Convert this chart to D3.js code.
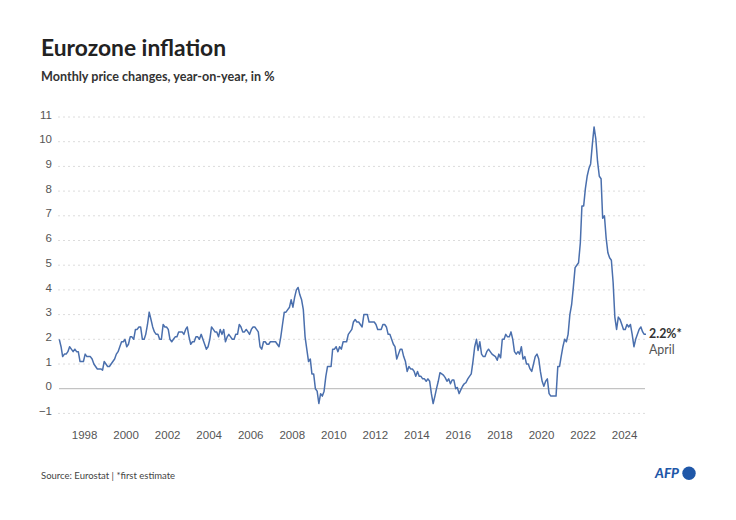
<!DOCTYPE html>
<html lang="en">
<head>
<meta charset="utf-8">
<title>Eurozone inflation</title>
<script src="https://cdn.jsdelivr.net/npm/d3@7"></script>
<style>
  html, body { margin: 0; background: #fff; }
  svg { display: block; font-family: Lato, "Noto Sans", sans-serif; }
  .axis path { display: none; }
  .axis text { fill: #555; font-size: 11.5px; }
  .grid line { stroke: #dcdcdc; stroke-dasharray: 2 3; }
</style>
</head>
<body>
<svg id="chart" width="736" height="520"></svg>
<script>
// monthly values per year
var y1997 = [2.0,1.7,1.3,1.4,1.4,1.5,1.7,1.6,1.5,1.6,1.5,1.5];
var y1998 = [1.1,1.1,1.1,1.4,1.3,1.3,1.3,1.2,1.0,0.9,0.8,0.8];
var y1999 = [0.8,0.75,1.1,1.0,0.9,0.9,1.0,1.1,1.2,1.4,1.5,1.7];
var y2000 = [1.9,1.9,2.0,1.7,1.8,2.1,2.1,2.0,2.4,2.4,2.5,2.5];
var y2001 = [2.0,2.0,2.2,2.6,3.1,2.8,2.5,2.3,2.2,2.2,2.0,2.0];
var y2002 = [2.6,2.5,2.5,2.4,2.0,1.9,2.0,2.1,2.1,2.3,2.3,2.3];
var y2003 = [2.2,2.4,2.5,2.1,1.8,1.9,1.9,2.1,2.1,2.0,2.2,2.0];
var y2004 = [1.8,1.6,1.7,2.0,2.5,2.4,2.3,2.3,2.1,2.4,2.2,2.4];
var y2005 = [1.9,2.1,2.2,2.1,2.0,2.0,2.2,2.2,2.6,2.5,2.3,2.3];
var y2006 = [2.4,2.3,2.2,2.4,2.5,2.5,2.4,2.3,1.7,1.6,1.9,1.9];
var y2007 = [1.8,1.8,1.9,1.9,1.9,1.9,1.8,1.7,2.1,2.6,3.1,3.1];
var y2008 = [3.2,3.3,3.6,3.3,3.7,4.0,4.1,3.8,3.6,3.2,2.1,1.6];
var y2009 = [1.1,1.2,0.6,0.6,0.0,-0.1,-0.6,-0.2,-0.3,-0.1,0.5,0.9];
var y2010 = [0.9,0.9,1.6,1.6,1.7,1.5,1.7,1.6,1.9,1.9,1.9,2.2];
var y2011 = [2.3,2.4,2.7,2.8,2.7,2.7,2.6,2.5,3.0,3.0,3.0,2.7];
var y2012 = [2.7,2.7,2.7,2.6,2.4,2.4,2.4,2.6,2.6,2.5,2.2,2.2];
var y2013 = [2.0,1.8,1.7,1.2,1.4,1.6,1.6,1.3,1.1,0.7,0.9,0.8];
var y2014 = [0.8,0.7,0.5,0.7,0.5,0.5,0.4,0.4,0.3,0.4,0.3,-0.2];
var y2015 = [-0.6,-0.3,0.0,0.3,0.65,0.6,0.55,0.45,0.3,0.4,0.2,0.35];
var y2016 = [0.35,0.0,0.05,-0.2,-0.05,0.1,0.2,0.25,0.4,0.5,0.6,1.1];
var y2017 = [1.7,2.0,1.55,1.9,1.4,1.3,1.3,1.5,1.6,1.5,1.4,1.35];
var y2018 = [1.3,1.15,1.4,1.25,2.0,2.0,2.2,2.1,2.1,2.3,2.0,1.5];
var y2019 = [1.4,1.5,1.4,1.7,1.2,1.3,1.0,1.0,0.8,0.7,1.0,1.3];
var y2020 = [1.4,1.2,0.7,0.3,0.1,0.3,0.4,-0.2,-0.3,-0.3,-0.3,-0.3];
var y2021 = [0.9,0.9,1.3,1.7,2.0,1.9,2.2,3.0,3.4,4.1,4.9,5.0];
var y2022 = [5.1,5.9,7.4,7.4,8.1,8.6,8.9,9.1,9.9,10.6,10.1,9.2];
var y2023 = [8.6,8.5,6.9,7.0,6.1,5.5,5.3,5.2,4.3,2.9,2.4,2.9];
var y2024 = [2.8,2.6,2.4,2.4,2.6,2.5,2.6,2.2,1.7,2.0,2.2,2.4];
var y2025 = [2.5,2.3,2.2,2.2];

var yearValues = [y1997,y1998,y1999,y2000,y2001,y2002,y2003,y2004,y2005,y2006,y2007,y2008,y2009,
  y2010,y2011,y2012,y2013,y2014,y2015,y2016,y2017,y2018,y2019,y2020,y2021,y2022,y2023,y2024,y2025];
var yTicks = [-1,0,1,2,3,4,5,6,7,8,9,10,11];
var xYears = [1998,2000,2002,2004,2006,2008,2010,2012,2014,2016,2018,2020,2022,2024];

var data = [];
yearValues.forEach(function(vals, i){
  vals.forEach(function(v, m){
    data.push({date: new Date(1997 + i, m, 1), value: v});
  });
});

var svg = d3.select("#chart");

var x = d3.scaleTime()
  .domain([new Date(1997,0,1), new Date(2025,3,1)])
  .range([59.3, 646]);
var y = d3.scaleLinear()
  .domain([-1, 11])
  .range([413.4, 117]);

svg.append("text").attr("x",41).attr("y",55.5)
  .attr("font-size",22.8).attr("font-weight",700).attr("fill","#222")
  .text("Eurozone inflation");
svg.append("text").attr("x",41).attr("y",81)
  .attr("font-size",12.6).attr("font-weight",700).attr("fill","#333")
  .text("Monthly price changes, year-on-year, in %");

// y axis labels sit just above their grid lines
var yAxis = d3.axisLeft(y)
  .tickValues(yTicks)
  .tickSize(0)
  .tickPadding(6)
  .tickFormat(function(d){ return d < 0 ? "\u2212" + Math.abs(d) : d; });
svg.append("g").attr("class","axis").attr("transform","translate(58,-2.5)").call(yAxis);

svg.append("g").attr("class","grid")
  .selectAll("line").data(yTicks.filter(function(d){ return d !== 0; })).enter().append("line")
  .attr("x1",58).attr("x2",646)
  .attr("y1",function(d){ return y(d); })
  .attr("y2",function(d){ return y(d); });

svg.append("line")
  .attr("x1",59).attr("x2",645)
  .attr("y1",y(0)).attr("y2",y(0))
  .attr("stroke","#b5b5b5").attr("stroke-width",1);

// x axis, labels sit a bit right of 1 January in the original
var xAxis = d3.axisBottom(x)
  .tickValues(xYears.map(function(d){ return new Date(d,0,1); }))
  .tickSize(0)
  .tickPadding(0)
  .tickFormat(d3.timeFormat("%Y"));
svg.append("g").attr("class","axis").attr("transform","translate(4,431)").call(xAxis);

var line = d3.line()
  .x(function(d){ return x(d.date); })
  .y(function(d){ return y(d.value); });

svg.append("path").datum(data)
  .attr("d",line)
  .attr("fill","none")
  .attr("stroke","#4a6fad")
  .attr("stroke-width",1.5)
  .attr("stroke-linejoin","round");

// end label
var last = data[data.length-1];
svg.append("text").attr("x",x(last.date)+3).attr("y",y(last.value)+4)
  .attr("font-size",12.4).attr("font-weight",700).attr("fill","#333")
  .text("2.2%*");
svg.append("text").attr("x",x(last.date)+3).attr("y",y(last.value)+20)
  .attr("font-size",12.4).attr("fill","#555")
  .text("April");

svg.append("text").attr("x",41).attr("y",479)
  .attr("font-size",9.5).attr("fill","#444")
  .text("Source: Eurostat | *first estimate");

// AFP logo
svg.append("text").attr("x",655).attr("y",478)
  .attr("font-size",13.5).attr("font-weight",900).attr("font-style","italic").attr("fill","#1f57a8")
  .text("AFP");
svg.append("circle").attr("cx",689).attr("cy",473.3).attr("r",6.7).attr("fill","#1f57a8");
</script>
</body>
</html>
